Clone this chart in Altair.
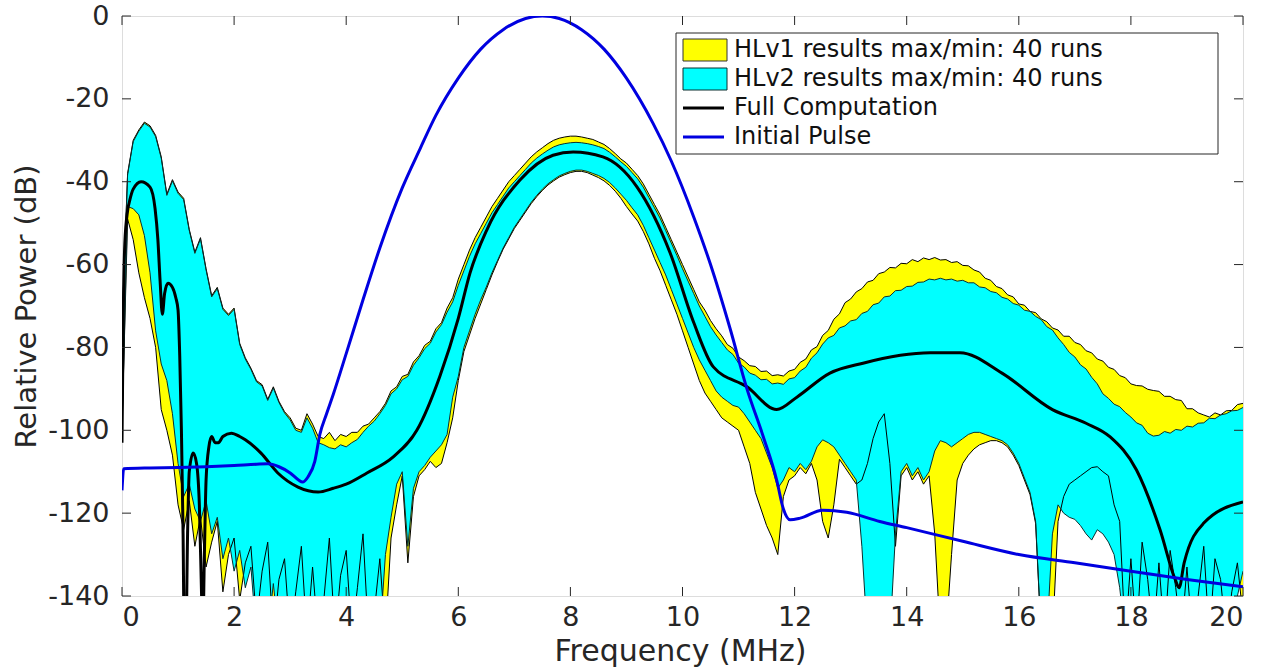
import altair as alt
import pandas as pd

# ---------------- data ----------------
freq = [round(i * 0.1, 1) for i in range(201)]

# HLv1 (yellow) upper envelope
U1 = [
    -75, -38, -30, -27.5, -25.6, -26.5, -28.8, -34, -43, -39.5,
    -42.5, -44, -51.5, -57, -53.5, -61, -67.5, -65.5, -70.5, -72,
    -70.5, -79, -82.5, -85, -88, -89, -92.5, -89.5, -93, -95.5,
    -97, -99.5, -100, -96, -98.5, -101.5, -102, -100.5, -102.5, -101,
    -101.5, -100.5, -100.5, -99, -98.5, -97, -95.5, -93.5, -90.5, -89.5,
    -87, -86.5, -83.5, -82, -79.5, -78.5, -75.5, -74, -70.5, -68,
    -63.5, -60, -56.5, -53.5, -51, -48.5, -46, -44, -42, -40,
    -38.5, -37, -35.5, -34, -32.8, -31.8, -30.8, -30, -29.5, -29.2,
    -29, -29, -29.2, -29.5, -29.8, -30.4, -31, -32, -33.2, -34.5,
    -35.5, -37, -38.5, -40.5, -43, -45.5, -48, -51, -54, -57,
    -60, -63, -66, -69, -71, -73.5, -75.5, -77.2, -79.3, -80.2,
    -82.3, -83.2, -84.4, -84.6, -85.8, -85.7, -86.8, -86.6, -86.9, -85.7,
    -85.3, -83.6, -82.8, -80.6, -79.8, -77.1, -75.9, -73.2, -71.9, -69.2,
    -68.3, -66.6, -65.8, -64.2, -63.8, -62.2, -61.8, -60.7, -60.8, -59.7,
    -59.8, -58.8, -59.3, -58.4, -58.8, -58.3, -58.9, -58.8, -59.5, -59.3,
    -60.2, -60.3, -61.3, -61.8, -63.3, -63.8, -65.3, -65.8, -67.3, -67.8,
    -69.5, -69.8, -71.3, -71.6, -73.1, -73.8, -75.3, -75.8, -77.3, -77.3,
    -78.8, -79.3, -80.8, -81.3, -82.8, -83.3, -84.8, -85.3, -86.8, -87.3,
    -88.8, -89.2, -89.3, -90.1, -90.4, -90.6, -91.8, -91.8, -92.6, -92.8,
    -94.8, -94.8, -95.8, -96.3, -96.8, -95.8, -96.3, -95.3, -95.2, -93.8,
    -93.5,
]

# HLv1 (yellow) lower envelope
L1 = [
    -100, -49, -54, -62, -68, -73, -80, -95, -100, -106,
    -118, -124, -117, -128, -121, -133, -127, -122, -139, -130,
    -126, -141, -132, -128, -146, -134, -127, -150, -136, -131,
    -150, -139, -128, -150, -133, -150, -141, -126, -150, -135,
    -129, -150, -138, -125, -150, -144, -131, -150, -126, -118,
    -111, -132, -116, -111, -109.5, -107.5, -109, -108, -103, -97,
    -88, -81, -77, -73, -69.5, -66, -62.5, -59.3, -56.3, -53.8,
    -51.3, -49.3, -47.3, -45.3, -43.6, -42.1, -40.8, -39.8, -38.9, -38.3,
    -37.8, -37.5, -37.5, -37.8, -38.4, -39, -39.8, -40.9, -42.3, -44,
    -46, -47.8, -49.5, -52, -55, -58.5, -61.5, -65, -68.5, -72,
    -76, -80, -84, -88, -91, -93, -95, -97, -98, -99,
    -100, -104, -108, -115, -119, -123, -126, -130, -116, -112,
    -111, -109, -110.5, -108, -112, -122, -126, -118, -107, -109,
    -111, -113, -112, -108, -102, -98, -96, -108, -128, -111,
    -109, -112, -110, -113, -111, -125, -150, -150, -130, -112,
    -108, -106, -104.5, -103.5, -103, -102.5, -102.5, -103, -104, -106,
    -108.5, -112, -115.5, -122.5, -150, -150, -150, -122, -116, -113,
    -112, -111, -110, -109, -108.8, -110, -111, -118, -122, -150,
    -131, -150, -127, -136, -150, -132, -150, -129, -138, -150,
    -133, -150, -140, -128, -150, -131, -136, -150, -139, -132,
    -145,
]

# HLv2 (cyan) upper envelope
U2 = [
    -75, -38.3, -30.3, -27.8, -25.9, -26.8, -29.1, -34.3, -43.3, -39.8,
    -42.8, -44.3, -51.8, -57.3, -53.8, -61.3, -67.8, -65.8, -70.8, -72.3,
    -70.8, -79.3, -82.8, -85.3, -88.3, -89.3, -92.8, -89.8, -93.3, -95.8,
    -97.5, -100, -100.5, -97, -99.5, -103, -103.5, -104.2, -104.5, -103.5,
    -104, -103, -102.2, -100.5, -99, -97.8, -96, -94, -91.2, -90,
    -87.8, -87, -84.3, -82.5, -80.3, -79, -76.3, -74.5, -71.5, -69,
    -65, -61.5, -58, -55, -52.5, -50, -47.5, -45.5, -43.5, -41.5,
    -40, -38.5, -37, -35.5, -34.3, -33.3, -32.4, -31.6, -31.1, -30.8,
    -30.6, -30.5, -30.6, -30.8, -31.1, -31.5, -32, -32.9, -34, -35.2,
    -36.3, -37.8, -39.3, -41.3, -43.8, -46.3, -48.8, -51.8, -54.8, -57.8,
    -61, -64, -67, -70, -72.5, -75, -77, -78.8, -80.6, -81.7,
    -83.8, -84.7, -86.2, -86.7, -87.8, -87.7, -88.8, -88.6, -88.9, -87.6,
    -87.3, -85.7, -84.8, -82.6, -81.3, -79.2, -77.7, -77.1, -75.3, -74.8,
    -73.6, -73.3, -71.8, -71.3, -69.7, -69.3, -67.8, -67.6, -66.3, -66.2,
    -65.3, -65.2, -64.3, -64.2, -63.5, -63.7, -63.3, -63.7, -63.5, -64,
    -63.8, -64.4, -64.4, -65.4, -65.6, -66.5, -66.8, -67.9, -68.3, -69.4,
    -69.8, -71, -71.3, -72.5, -73.3, -75, -75.8, -77.7, -79.3, -81.2,
    -82.3, -84.2, -85.2, -87.2, -88.8, -91.2, -92.3, -93.7, -94.3, -95.7,
    -96.8, -98.2, -98.8, -100.7, -101.4, -101.2, -100.3, -100.7, -99.8, -100,
    -99, -99.2, -98.3, -98.2, -97.1, -97.2, -96.3, -96, -95.3, -95.2,
    -94.5,
]

# HLv2 (cyan) lower envelope
L2 = [
    -100, -46, -46.5, -48, -53, -62, -76, -84, -88, -96,
    -108, -116, -113, -119, -122, -117, -125, -121, -131, -126,
    -134, -129, -138, -133, -150, -140, -150, -137, -150, -150,
    -143, -150, -150, -150, -148, -150, -150, -144, -150, -150,
    -150, -147, -150, -150, -150, -143, -150, -130, -121, -113,
    -110, -128, -114, -110, -108.5, -106.5, -105, -103.5, -101, -92,
    -87, -80, -76, -72, -68.5, -65.4, -62, -59, -56, -53.5,
    -51, -49, -47, -45, -43.3, -41.8, -40.5, -39.5, -38.6, -38,
    -37.5, -37.2, -37.2, -37.5, -38, -38.5, -39.2, -40.2, -41.5, -43,
    -44.5, -46.3, -48, -50.5, -53.5, -56.5, -59.5, -62.5, -66, -69.5,
    -73, -76.5, -80, -83, -85.5, -88, -90.5, -92, -93, -94,
    -94.4, -96, -98, -100, -102, -105.5, -109, -114, -112, -109,
    -110, -108, -109.5, -107.5, -104, -102.3, -103, -104, -106, -108,
    -110, -112, -128, -150, -150, -145, -150, -150, -125, -110,
    -108, -111, -109, -112, -110, -105, -102.5, -103, -104, -103,
    -102, -101, -100.5, -100.5, -101, -101.5, -102, -102.5, -103.5, -105.5,
    -108, -111.5, -115, -122, -150, -150, -125, -118, -120, -121,
    -121.5, -123, -125, -126.5, -124, -125, -127, -130, -138, -150,
    -150, -146, -150, -150, -150, -143, -150, -150, -147, -150,
    -150, -144, -150, -150, -150, -146, -150, -150, -141, -140,
    -134,
]

# Full computation (black)
full_f = [0, 0.02, 0.05, 0.1, 0.14, 0.2, 0.34, 0.5, 0.59, 0.64, 0.68, 0.72,
          0.76, 0.82, 0.9, 0.96, 1.0, 1.03, 1.06, 1.09, 1.11, 1.14, 1.17, 1.2,
          1.27, 1.33, 1.38, 1.42, 1.44, 1.47, 1.5, 1.55, 1.6, 1.66, 1.72, 1.8,
          1.95, 2.1, 2.2, 2.48, 2.78, 3.14, 3.5, 3.77, 4.0, 4.37, 4.84, 5.26,
          5.67, 6.0, 6.21, 6.51, 7.1, 7.69, 8.05, 8.58, 9.19, 9.78, 10.2,
          10.55, 11.15, 11.68, 12.04, 12.63, 13.22, 14.42, 14.95, 15.7, 16.6,
          17.2, 17.63, 18.1, 18.52, 18.79, 18.86, 18.95, 19.3, 20.0]
full_db = [-103, -75, -55, -47, -44.4, -41.8, -40, -41.3, -46.5, -54, -64, -72,
           -67, -64.5, -65.5, -68, -71, -82, -100, -125, -150, -150, -125, -110,
           -105.5, -108, -118, -140, -150, -130, -112, -104, -101.5, -103, -103, -101.5,
           -100.7, -101.5, -102.3, -105.5, -110.3, -113.7, -114.9, -114, -113, -110.3, -106.4, -100,
           -87, -73, -62, -51.6, -39.6, -33.6, -32.8, -34, -41.3, -57.2, -74,
           -84.7, -89.5, -95, -92, -86.2, -83.8, -81.3, -81.3, -86.2, -95,
           -98.3, -101.6, -109.6, -124, -136, -138, -132, -122.4, -117.3]

# Initial pulse (blue)
pulse_f = [0, 0.03, 0.5, 1.0, 1.5, 2.0, 2.4, 2.6, 2.8, 3.0, 3.15, 3.22, 3.32,
           3.44, 3.53, 3.65, 3.77, 4.0, 4.3, 4.6, 5.0, 5.32, 5.6, 6.0, 6.4, 6.8,
           7.2, 7.5, 7.8, 8.2, 8.6, 9.0, 9.47, 9.8, 10.2, 10.5, 10.85, 11.15,
           11.44, 11.68, 11.8, 11.92, 12.1, 12.5, 12.93, 13.52, 14, 15, 16, 17,
           18, 19, 20]
pulse_db = [-114.5, -109.3, -109.1, -109, -108.8, -108.5, -108.2, -108.1, -108.8,
            -110.3, -112, -112.5, -111.2, -107.5, -101, -96, -91.3, -81.5, -68.5,
            -56, -41.5, -32, -24, -15, -8, -3.3, -0.6, 0, -0.6, -3.3, -8, -15,
            -25.8, -35, -48.5, -60, -75.5, -90, -101.5, -112, -119, -121.6,
            -121.2, -119.3, -119.8, -122, -123.5, -126.8, -130, -132, -134, -136,
            -137.8]

x_ticks = [0, 2, 4, 6, 8, 10, 12, 14, 16, 18, 20]
y_ticks = [-140, -120, -100, -80, -60, -40, -20, 0]
legend_labels = ["HLv1 results max/min: 40 runs", "HLv2 results max/min: 40 runs",
                 "Full Computation", "Initial Pulse"]

# ---------------- chart ----------------
W, H = 1121, 580
FONT = "DejaVu Sans"
TXT = "#262626"

bands = pd.DataFrame({"f": freq, "u1": U1, "l1": L1, "u2": U2, "l2": L2})
full = pd.DataFrame({"f": full_f, "db": full_db})
pulse = pd.DataFrame({"f": pulse_f, "db": pulse_db})

xscale = alt.Scale(domain=[0, 20], nice=False, zero=False)
yscale = alt.Scale(domain=[-140, 0], nice=False, zero=False)
XT = "Frequency (MHz)"
YT = "Relative Power (dB)"

xaxis = alt.Axis(values=x_ticks, labelPadding=8, titleX=558, titleY=55,
                 titleAlign="center", titleBaseline="middle", labelFontSize=27,
                 titleFontSize=30, titleFontWeight="normal", labelFont=FONT,
                 titleFont=FONT, labelColor=TXT, titleColor=TXT,
                 ticks=False, domain=False, grid=False)
yaxis = alt.Axis(values=y_ticks, labelPadding=13, labelExpr="'' + datum.value",
                 titleX=-96, titleY=290, titleAlign="center", titleBaseline="middle",
                 titleAngle=270, labelFontSize=27, titleFontSize=29,
                 titleFontWeight="normal", labelFont=FONT, titleFont=FONT,
                 labelColor=TXT, titleColor=TXT,
                 ticks=False, domain=False, grid=False)


def X(field):
    return alt.X(field, scale=xscale, axis=xaxis, title=XT)


def Y(field):
    return alt.Y(field, scale=yscale, axis=yaxis, title=YT)


base = alt.Chart(bands)
yellow = base.mark_area(color="#ffff00", clip=True).encode(
    x=X("f:Q"), y=Y("u1:Q"), y2="l1:Q")
cyan = base.mark_area(color="#00ffff", clip=True).encode(
    x=X("f:Q"), y=Y("u2:Q"), y2="l2:Q")

edges = []
for fld, col in [("u1", "#000000"), ("l1", "#000000"), ("u2", "#0b2f2f"), ("l2", "#0b2f2f")]:
    edges.append(base.mark_line(color=col, strokeWidth=1, clip=True).encode(
        x=X("f:Q"), y=Y(f"{fld}:Q")))

full_line = alt.Chart(full).mark_line(color="#000000", strokeWidth=3, clip=True,
                                      interpolate="monotone").encode(
    x=X("f:Q"), y=Y("db:Q"))
pulse_line = alt.Chart(pulse).mark_line(color="#0000e0", strokeWidth=3, clip=True,
                                        interpolate="monotone").encode(
    x=X("f:Q"), y=Y("db:Q"))

# inward tick marks on all four sides
xt = alt.Chart(pd.DataFrame({"t": x_ticks}))
yt = alt.Chart(pd.DataFrame({"t": y_ticks}))
ticks = [
    xt.mark_rule(color=TXT, strokeWidth=1).encode(x=X("t:Q"), y=alt.value(H), y2=alt.value(H - 9)),
    xt.mark_rule(color=TXT, strokeWidth=1).encode(x=X("t:Q"), y=alt.value(0), y2=alt.value(9)),
    yt.mark_rule(color=TXT, strokeWidth=1).encode(y=Y("t:Q"), x=alt.value(0), x2=alt.value(9)),
    yt.mark_rule(color=TXT, strokeWidth=1).encode(y=Y("t:Q"), x=alt.value(W), x2=alt.value(W - 9)),
]

# legend (drawn by hand, inside the plot, top right)
one = alt.Chart(pd.DataFrame({"k": [0]}))
leg = [
    one.mark_rect(fill="white", stroke=TXT, strokeWidth=1).encode(
        x=alt.value(554), x2=alt.value(1096), y=alt.value(17), y2=alt.value(138)),
    one.mark_rect(fill="#ffff00", stroke="#333333", strokeWidth=1).encode(
        x=alt.value(561), x2=alt.value(605), y=alt.value(23), y2=alt.value(45)),
    one.mark_rect(fill="#00ffff", stroke="#0b2f2f", strokeWidth=1).encode(
        x=alt.value(561), x2=alt.value(605), y=alt.value(52), y2=alt.value(74)),
    one.mark_rule(color="#000000", strokeWidth=3).encode(
        x=alt.value(561), x2=alt.value(602), y=alt.value(92)),
    one.mark_rule(color="#0000e0", strokeWidth=3).encode(
        x=alt.value(561), x2=alt.value(602), y=alt.value(121)),
]
for i, lab in enumerate(legend_labels):
    leg.append(one.mark_text(text=lab, align="left", baseline="middle", font=FONT,
                             fontSize=24, color="#111111").encode(
        x=alt.value(612), y=alt.value(34 + 29 * i)))

chart = alt.layer(yellow, cyan, *edges, full_line, pulse_line, *ticks, *leg).properties(
    width=W, height=H,
    autosize=alt.AutoSizeParams(type="none"),
    padding={"left": 122, "top": 16, "right": 30, "bottom": 71},
).configure_view(stroke=TXT, strokeWidth=1.2).configure(background="white")

chart.save("out.html", embed_options={"renderer": "svg", "actions": False})
